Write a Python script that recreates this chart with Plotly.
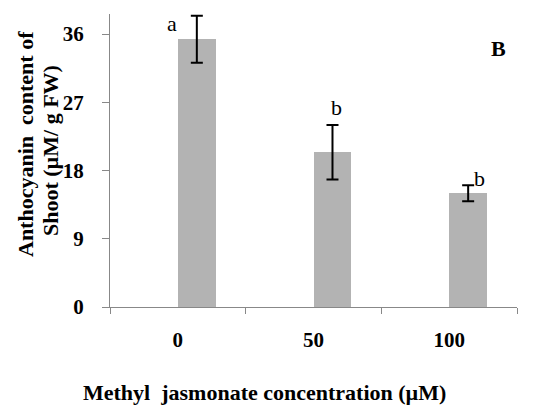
import plotly.graph_objects as go

categories = ["0", "50", "100"]
values = [35.3, 20.4, 15.0]
errors = [3.1, 3.6, 1.05]
letters = ["a", "b", "b"]
y_ticks = [0, 9, 18, 27, 36]

SERIF = "Liberation Serif"
BAR_W = 0.28
OFF = 8  # page body margin offset
# plot area in page pixels
L, R, T, B = 110 - OFF, 517 - OFF, 14 - OFF, 307 - OFF
W, H = 554 - OFF, 406 - OFF

def px(x):
    return (x - OFF - L) / (R - L)

def py(y):
    return (B - (y - OFF)) / (B - T)

fig = go.Figure()
fig.add_trace(go.Bar(
    x=categories, y=values, width=BAR_W, offset=0,
    marker=dict(color="#b3b3b3", line=dict(width=0)),
    showlegend=False,
))
idx = list(range(len(categories)))
fig.add_trace(go.Scatter(
    x=[i + BAR_W / 2 for i in idx], y=values, xaxis="x2", mode="markers",
    marker=dict(size=0.1, color="rgba(0,0,0,0)"),
    error_y=dict(type="data", array=errors, color="black", thickness=2, width=6),
    showlegend=False, hoverinfo="skip",
))

letter_dx = [-0.043, 0.166, 0.22]
letter_y = [37.4, 26.3, 17.0]
for i, (l, dx, yy) in enumerate(zip(letters, letter_dx, letter_y)):
    fig.add_annotation(x=i + dx, y=yy, xref="x2", yref="y", text=l, showarrow=False,
                       font=dict(family=SERIF, size=22, color="black"), yanchor="middle")

fig.add_annotation(x=px(508), y=py(34), xref="paper", yref="paper", text="<b>B</b>",
                   showarrow=False, font=dict(family=SERIF, size=22, color="black"))

# y title (two lines)
fig.add_annotation(x=px(25), y=py(144), xref="paper", yref="paper",
                   text="<b>Anthocyanin  content of</b>", textangle=-90, showarrow=False,
                   xanchor="center", yanchor="middle",
                   font=dict(family=SERIF, size=22, color="black"))
fig.add_annotation(x=px(50), y=py(151), xref="paper", yref="paper",
                   text="<b>Shoot (µM/ g FW)</b>", textangle=-90, showarrow=False,
                   xanchor="center", yanchor="middle",
                   font=dict(family=SERIF, size=22, color="black"))
# x title
fig.add_annotation(x=px(264), y=py(392), xref="paper", yref="paper",
                   text="<b>Methyl  jasmonate concentration (µM)</b>", showarrow=False,
                   xanchor="center", yanchor="middle",
                   font=dict(family=SERIF, size=22, color="black"))

fig.update_layout(
    width=W, height=H,
    margin=dict(l=L, r=W - R, t=T, b=H - B, autoexpand=False),
    paper_bgcolor="white", plot_bgcolor="white",
    bargap=0,
    xaxis=dict(
        type="category", range=[-0.5, 2.5], tickson="boundaries",
        ticks="outside", ticklen=6, tickcolor="#888888",
        showline=True, linecolor="#888888", linewidth=1,
        showgrid=False, ticklabelstandoff=14, automargin=False,
        tickfont=dict(family=SERIF, size=21, color="black", weight="bold"),
    ),
    xaxis2=dict(range=[-0.5, 2.5], overlaying="x", visible=False),
    yaxis=dict(
        range=[0, 38.64], tickvals=y_ticks, ticks="outside", ticklen=7,
        tickcolor="#888888", showline=True, linecolor="#888888", linewidth=1,
        showgrid=False, zeroline=False, ticklabelstandoff=14, automargin=False,
        tickfont=dict(family=SERIF, size=21, color="black", weight="bold"),
    ),
)

fig.write_html("out.html")
